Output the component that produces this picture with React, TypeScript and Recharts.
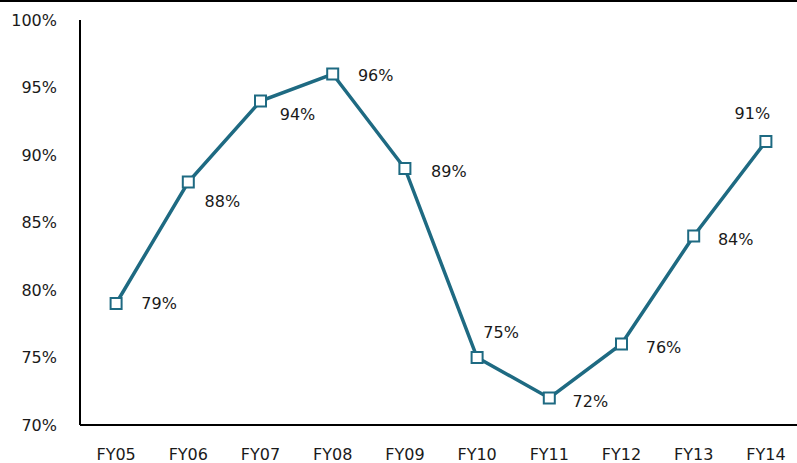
import React from "react";
import { LineChart, Line, XAxis, YAxis, LabelList } from "recharts";

// Fiscal years and yearly percentage values
const years = ["FY05", "FY06", "FY07", "FY08", "FY09", "FY10", "FY11", "FY12", "FY13", "FY14"];
const rates = [79, 88, 94, 96, 89, 75, 72, 76, 84, 91];
const yTicks = [70, 75, 80, 85, 90, 95, 100];

const data = years.map((year, i) => ({ year, rate: rates[i] }));

// Where each value label sits relative to its marker (dx, dy in px)
const labelOffsets: Record<string, [number, number]> = {
  FY05: [43, 0],
  FY06: [34, 19],
  FY07: [37, 13],
  FY08: [43, 1.5],
  FY09: [44, 3],
  FY10: [24, -25],
  FY11: [41, 3],
  FY12: [42, 3.5],
  FY13: [42, 3],
  FY14: [-13.5, -28],
};

const LINE_COLOR = "#1e6a82";
const FONT = "'DejaVu Sans', Verdana, sans-serif";
const TEXT_COLOR = "#1a1a1a";

const SquareDot = (props: any) => {
  const { cx, cy } = props;
  if (cx == null || cy == null) return null;
  const s = 11;
  return (
    <rect
      x={cx - s / 2}
      y={cy - s / 2}
      width={s}
      height={s}
      fill="#ffffff"
      stroke={LINE_COLOR}
      strokeWidth={2}
    />
  );
};

const ValueLabel = (props: any) => {
  const { x, y, value, index } = props;
  const [dx, dy] = labelOffsets[years[index]] || [40, 0];
  return (
    <text
      x={x + dx}
      y={y + dy}
      dy="0.355em"
      textAnchor="middle"
      fontFamily={FONT}
      fontSize={16}
      fill={TEXT_COLOR}
    >
      {`${value}%`}
    </text>
  );
};

export default function App() {
  return (
    <div
      style={{
        position: "absolute",
        left: 0,
        top: 0,
        width: 797,
        height: 463,
        overflow: "hidden",
        background: "#ffffff",
      }}
    >
      <LineChart
        width={802}
        height={463}
        data={data}
        margin={{ top: 20, right: 0, bottom: 0, left: 0 }}
      >
        <XAxis
          dataKey="year"
          height={38}
          padding={{ left: 36.1, right: 36.1 }}
          axisLine={{ stroke: "#000000", strokeWidth: 2 }}
          tickLine={false}
          tickMargin={18}
          interval={0}
          tick={{ fontFamily: FONT, fontSize: 16, fill: TEXT_COLOR }}
        />
        <YAxis
          width={80}
          domain={[70, 100]}
          ticks={yTicks}
          tickFormatter={(v: number) => `${v}%`}
          axisLine={{ stroke: "#000000", strokeWidth: 2 }}
          tickLine={false}
          tickMargin={17}
          tick={{ fontFamily: FONT, fontSize: 16, fill: TEXT_COLOR }}
        />
        <Line
          type="linear"
          dataKey="rate"
          stroke={LINE_COLOR}
          strokeWidth={3.5}
          dot={<SquareDot />}
          activeDot={false}
          isAnimationActive={false}
        >
          <LabelList dataKey="rate" content={<ValueLabel />} />
        </Line>
      </LineChart>
      <div
        style={{
          position: "absolute",
          left: 0,
          top: 0,
          width: 797,
          height: 2,
          background: "#000000",
        }}
      />
    </div>
  );
}
